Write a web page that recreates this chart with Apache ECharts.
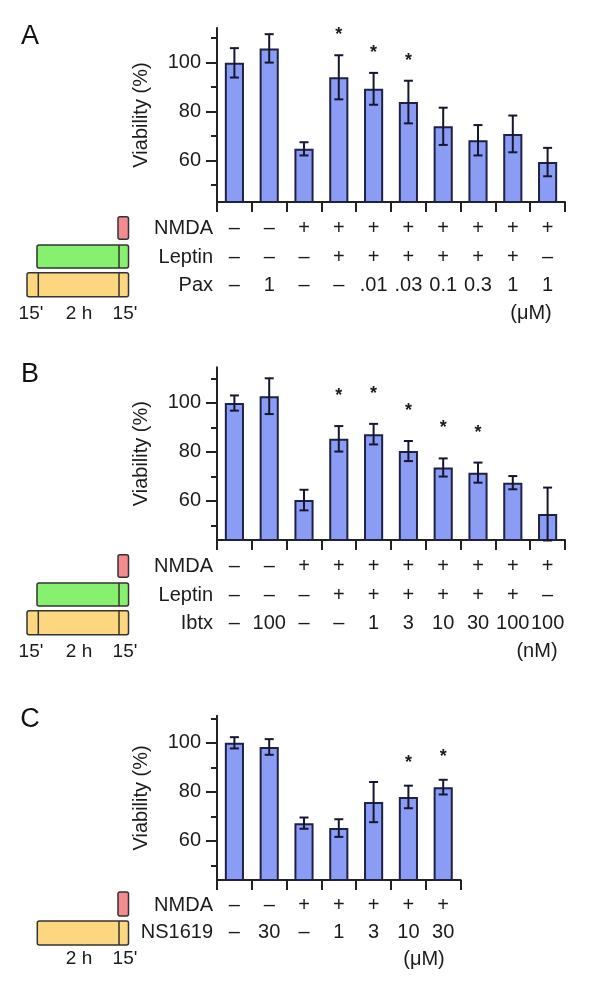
<!DOCTYPE html>
<html><head><meta charset="utf-8">
<script src="https://cdn.jsdelivr.net/npm/echarts@6/dist/echarts.min.js"></script>
<style>html,body{margin:0;padding:0;background:#fff}#c{width:589px;height:995px}</style>
</head><body><div id="c"></div>
<script>
// ---------- data ----------
const nmdaA   = ['–','–','+','+','+','+','+','+','+','+'];
const leptinA = ['–','–','–','+','+','+','+','+','+','–'];
const paxA    = ['–','1','–','–','.01','.03','0.1','0.3','1','1'];
const viabA   = [99.8,105.7,64.7,93.9,89.2,83.8,73.9,68.2,70.8,59.3];
const semA    = [6.0,5.8,2.7,9.0,6.5,8.7,7.6,6.2,7.5,5.8];
const sigA    = [0,0,0,1,1,1,0,0,0,0];

const nmdaB   = ['–','–','+','+','+','+','+','+','+','+'];
const leptinB = ['–','–','–','+','+','+','+','+','+','–'];
const ibtxB   = ['–','100','–','–','1','3','10','30','100','100'];
const viabB   = [99.9,102.7,60.3,85.3,87.2,80.3,73.6,71.5,67.4,54.6];
const semB    = [3.1,7.3,4.2,5.2,4.2,4.1,3.7,4.1,2.7,10.8];
const sigB    = [0,0,0,1,1,1,1,1,0,0];

const nmdaC   = ['–','–','+','+','+','+','+'];
const ns1619C = ['–','30','–','1','3','10','30'];
const viabC   = [100.0,98.3,67.2,65.2,75.8,77.9,81.9];
const semC    = [2.3,3.2,2.3,3.6,8.2,4.6,3.0];
const sigC    = [0,0,0,0,0,1,1];

const yTickLabels = [60,80,100];
const yTicksAll   = [50,60,70,80,90,100,110];
const yTitle = 'Viability (%)';

// ---------- layout / style ----------
const FONT = '"Liberation Sans", Arial, Helvetica, sans-serif';
const TXT = '#1b1b1b';
const AX = '#222';
const BAR = '#8b9cf5';
const BAR_EDGE = '#1f2245';
const CAT_W = 34.8;
const LEFT = 217;

const panels = [
  {letter:'A', letterY:37, axisY:202, min:43, max:114, lh:28.4, starOff:20,
   rowNames:['NMDA','Leptin','Pax'], rows:[nmdaA,leptinA,paxA], vals:viabA, sem:semA, sig:sigA,
   unit:'(μM)', unitX:531, boxes:'3', times:["15'","2 h","15'"]},
  {letter:'B', letterY:375, axisY:540, min:44, max:114.5, lh:28.4, starOff:30,
   rowNames:['NMDA','Leptin','Ibtx'], rows:[nmdaB,leptinB,ibtxB], vals:viabB, sem:semB, sig:sigB,
   unit:'(nM)', unitX:537, boxes:'3', times:["15'","2 h","15'"]},
  {letter:'C', letterY:720, axisY:880, min:44, max:111, lh:26.7, starOff:23,
   rowNames:['NMDA','NS1619'], rows:[nmdaC,ns1619C], vals:viabC, sem:semC, sig:sigC,
   unit:'(μM)', unitX:424, boxes:'2', times:[null,"2 h","15'"]}
];
const PXU = 2.45; // px per % unit

const grid=[], xAxis=[], yAxis=[], series=[], graphic=[];
panels.forEach((p,g)=>{
  const n = p.vals.length;
  const height = (p.max-p.min)*PXU;
  grid.push({left:LEFT, top:p.axisY-height, width:CAT_W*n, height:height, containLabel:false, outerBoundsMode:'none'});
  const cats = p.rows[0].map((_,i)=>p.rows.map(r=>r[i]).join('\n'));
  xAxis.push({type:'category', gridIndex:g, data:cats, position:'bottom',
    axisLine:{lineStyle:{color:AX,width:2}},
    axisTick:{show:true,length:10,lineStyle:{color:AX,width:2}},
    axisLabel:{interval:0,fontSize:20,lineHeight:p.lh,margin:12.5,color:TXT,fontFamily:FONT}});
  yAxis.push({type:'value', gridIndex:g, min:p.min, max:p.max, position:'left', offset:0,
    axisLine:{show:true,lineStyle:{color:AX,width:2}},
    axisTick:{show:true,length:6,customValues:yTicksAll,lineStyle:{color:AX,width:2}},
    axisLabel:{show:false}, splitLine:{show:false}});
  yAxis.push({type:'value', gridIndex:g, min:p.min, max:p.max, position:'left', offset:0,
    axisLine:{show:false},
    axisTick:{show:true,length:11,customValues:yTickLabels,lineStyle:{color:AX,width:2}},
    axisLabel:{show:true,customValues:yTickLabels,fontSize:20,margin:16,color:TXT,fontFamily:FONT},
    splitLine:{show:false},
    name:yTitle, nameLocation:'middle', nameGap:66, nameRotate:90,
    nameTextStyle:{fontSize:20,color:TXT,fontFamily:FONT}});
  series.push({type:'bar', xAxisIndex:g, yAxisIndex:2*g, data:p.vals, barWidth:'55%', clip:true, z:2,
    itemStyle:{color:BAR,borderColor:BAR_EDGE,borderWidth:2}, silent:true, animation:false});
  series.push({type:'custom', xAxisIndex:g, yAxisIndex:2*g, animation:false, silent:true, z:5,
    data:p.vals.map((v,i)=>[i,v,p.sem[i],p.sig[i]]),
    encode:{x:0,y:1},
    renderItem:(params,api)=>{
      const i=api.value(0), m=api.value(1), e=api.value(2), s=api.value(3);
      const t=api.coord([i,m+e]), b=api.coord([i,m-e]);
      const cap=4.5, st={stroke:'#15172e',lineWidth:2};
      const ch=[
        {type:'line',shape:{x1:t[0],y1:t[1],x2:b[0],y2:b[1]},style:st},
        {type:'line',shape:{x1:t[0]-cap,y1:t[1],x2:t[0]+cap,y2:t[1]},style:st},
        {type:'line',shape:{x1:b[0]-cap,y1:b[1],x2:b[0]+cap,y2:b[1]},style:st}
      ];
      if(s) ch.push({type:'text',x:t[0],y:t[1]-p.starOff,
        style:{text:'*',fontSize:18,fontWeight:'bold',fill:TXT,align:'center',verticalAlign:'middle',fontFamily:FONT}});
      return {type:'group',children:ch};
    }});

  // panel letter
  graphic.push({type:'text',x:30,y:p.letterY,style:{text:p.letter,fontSize:27,fill:'#111',align:'center',verticalAlign:'middle',fontFamily:FONT}});
  // row names
  p.rowNames.forEach((nm,k)=>{
    graphic.push({type:'text',x:213,y:p.axisY+12.5+p.lh*(k+0.5),style:{text:nm,fontSize:20,fill:TXT,align:'right',verticalAlign:'middle',fontFamily:FONT}});
  });
  const unitY = p.axisY+12.5+p.lh*(p.rows.length+0.5);
  graphic.push({type:'text',x:p.unitX,y:unitY,style:{text:p.unit,fontSize:20,fill:TXT,align:'center',verticalAlign:'middle',fontFamily:FONT}});
  // protocol boxes
  const edge={stroke:'#333',lineWidth:1.5};
  const ay=p.axisY;
  if(p.boxes==='3'){
    graphic.push({type:'rect',shape:{x:118,y:ay+14.7,width:10.5,height:22.6,r:2},style:Object.assign({fill:'#f38c8f'},edge)});
    graphic.push({type:'rect',shape:{x:37,y:ay+43,width:91.5,height:23,r:2},style:Object.assign({fill:'#88f06f'},edge)});
    graphic.push({type:'line',shape:{x1:119,y1:ay+43,x2:119,y2:ay+66},style:edge});
    graphic.push({type:'rect',shape:{x:27,y:ay+70.7,width:101.5,height:24,r:2},style:Object.assign({fill:'#fdd680'},edge)});
    graphic.push({type:'line',shape:{x1:38.3,y1:ay+70.7,x2:38.3,y2:ay+94.7},style:edge});
    graphic.push({type:'line',shape:{x1:119,y1:ay+70.7,x2:119,y2:ay+94.7},style:edge});
  } else {
    graphic.push({type:'rect',shape:{x:118,y:ay+12,width:10.5,height:24,r:2},style:Object.assign({fill:'#f38c8f'},edge)});
    graphic.push({type:'rect',shape:{x:37.3,y:ay+41,width:91.2,height:24,r:2},style:Object.assign({fill:'#fdd680'},edge)});
    graphic.push({type:'line',shape:{x1:119,y1:ay+41,x2:119,y2:ay+65},style:edge});
  }
  const tx=[31,79,125];
  p.times.forEach((t,k)=>{ if(t) graphic.push({type:'text',x:tx[k],y:unitY,style:{text:t,fontSize:19,fill:TXT,align:'center',verticalAlign:'middle',fontFamily:FONT}}); });
});

const chart = echarts.init(document.getElementById('c'), null, {renderer:'canvas'});
chart.setOption({animation:false, backgroundColor:'#fff', grid, xAxis, yAxis, series, graphic});
</script>
</body></html>
